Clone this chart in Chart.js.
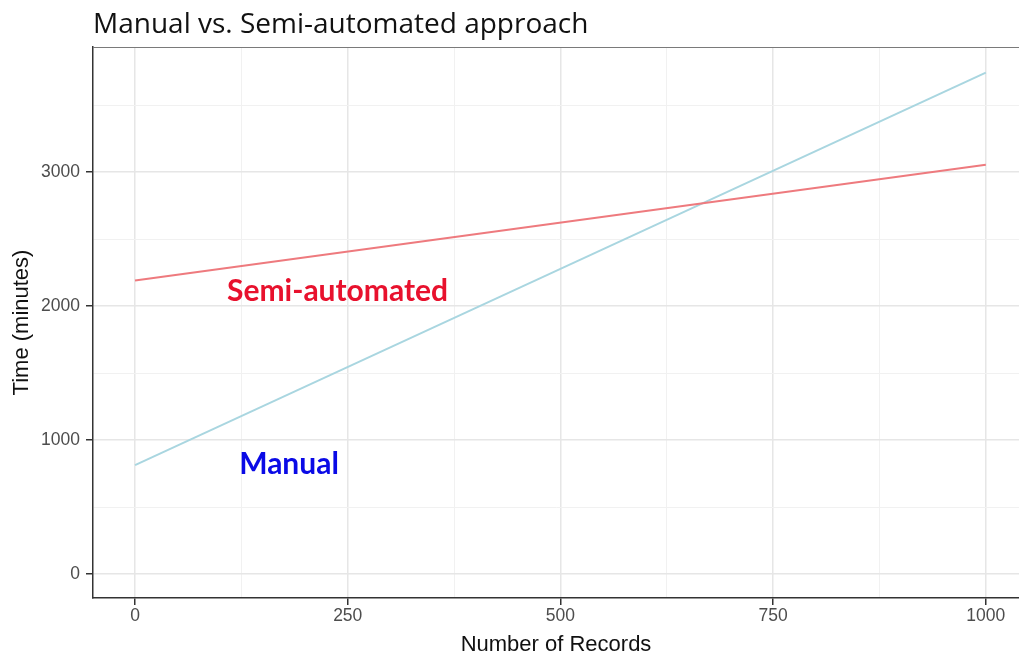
<!DOCTYPE html>
<html>
<head>
<meta charset="utf-8">
<script src="https://cdn.jsdelivr.net/npm/chart.js@4"></script>
<style>
  body { margin: 0; background: #fff; }
  #wrap { width: 1019px; height: 658px; position: relative; }
</style>
</head>
<body>
<div id="wrap"><canvas id="timeChart"></canvas></div>
<script>
// data
const records = [0, 1000];
const manualTime = [813, 3742];
const semiTime = [2191, 3055];

const xTicks = [0, 125, 250, 375, 500, 625, 750, 875, 1000];
const xLabelled = [0, 250, 500, 750, 1000];
const yTicks = [0, 500, 1000, 1500, 2000, 2500, 3000, 3500];
const yLabelled = [0, 1000, 2000, 3000];

const titleText = "Manual vs. Semi-automated approach";
const labels = [
  { text: "Semi-automated", x: 238, y: 2109, color: "#E8112D" },
  { text: "Manual", x: 181, y: 820, color: "#0A0AE6" },
];

const toPoints = (xs, ys) => xs.map((x, i) => ({ x: x, y: ys[i] }));

const decor = {
  id: "decor",
  afterDatasetsDraw(chart) {
    const { ctx, chartArea, scales } = chart;
    ctx.save();
    // top panel border
    ctx.strokeStyle = "#7a7a7a";
    ctx.lineWidth = 1;
    ctx.beginPath();
    ctx.moveTo(chartArea.left, chartArea.top + 0.5);
    ctx.lineTo(chartArea.right, chartArea.top + 0.5);
    ctx.stroke();
    // in-plot labels
    ctx.font = "bold 30px Lato";
    ctx.textAlign = "center";
    ctx.textBaseline = "middle";
    labels.forEach(l => {
      ctx.fillStyle = l.color;
      ctx.fillText(l.text, scales.x.getPixelForValue(l.x), scales.y.getPixelForValue(l.y));
    });
    // title
    ctx.font = "28px 'Open Sans'";
    ctx.fillStyle = "#111";
    ctx.textAlign = "left";
    ctx.textBaseline = "alphabetic";
    ctx.fillText(titleText, chartArea.left, 33);
    ctx.restore();
  },
};

const gridColor = (ctx, major) => major.includes(ctx.tick && ctx.tick.value) ? "#e6e6e6" : "#f1f1f1";
const tickColor = (ctx, major) => major.includes(ctx.tick && ctx.tick.value) ? "#333" : "rgba(0,0,0,0)";

new Chart(document.getElementById("timeChart"), {
  type: "line",
  data: {
    datasets: [
      { label: "Semi-automated", data: toPoints(records, semiTime), borderColor: "#EE7A7E", borderWidth: 2, pointRadius: 0 },
      { label: "Manual", data: toPoints(records, manualTime), borderColor: "#A9D6E0", borderWidth: 2, pointRadius: 0 },
    ],
  },
  options: {
    responsive: true,
    maintainAspectRatio: false,
    animation: false,
    layout: { padding: { top: 47, left: 0, right: 0, bottom: 0 } },
    plugins: { legend: { display: false }, tooltip: { enabled: false } },
    scales: {
      x: {
        type: "linear",
        min: -49.4,
        max: 1039,
        afterBuildTicks: s => { s.ticks = xTicks.map(v => ({ value: v })); },
        afterFit: s => { s.height = 60; },
        ticks: {
          autoSkip: false,
          maxRotation: 0,
          padding: 1,
          color: "#4d4d4d",
          font: { family: "Liberation Sans", size: 17.5 },
          callback: v => xLabelled.includes(v) ? String(v) : "",
        },
        grid: {
          color: c => gridColor(c, xLabelled),
          lineWidth: c => xLabelled.includes(c.tick && c.tick.value) ? 1.5 : 1,
          tickColor: c => tickColor(c, xLabelled),
          tickLength: 7,
          tickWidth: 1.5,
        },
        border: { color: "#333", width: 1.5 },
        title: {
          display: true,
          text: "Number of Records",
          color: "#111",
          font: { family: "Liberation Sans", size: 22 },
          padding: { top: 0, bottom: 0 },
        },
      },
      y: {
        type: "linear",
        min: -179,
        max: 3933,
        afterBuildTicks: s => { s.ticks = yTicks.map(v => ({ value: v })); },
        afterFit: s => { s.width = 93; },
        ticks: {
          autoSkip: false,
          padding: 6,
          color: "#4d4d4d",
          font: { family: "Liberation Sans", size: 17.5 },
          callback: v => yLabelled.includes(v) ? String(v) : "",
        },
        grid: {
          color: c => gridColor(c, yLabelled),
          lineWidth: c => yLabelled.includes(c.tick && c.tick.value) ? 1.5 : 1,
          tickColor: c => tickColor(c, yLabelled),
          tickLength: 7,
          tickWidth: 1.5,
        },
        border: { color: "#333", width: 1.5 },
        title: {
          display: true,
          text: "Time (minutes)",
          color: "#111",
          font: { family: "Liberation Sans", size: 22 },
          padding: { top: 9, bottom: 0 },
        },
      },
    },
  },
  plugins: [decor],
});
</script>
</body>
</html>
